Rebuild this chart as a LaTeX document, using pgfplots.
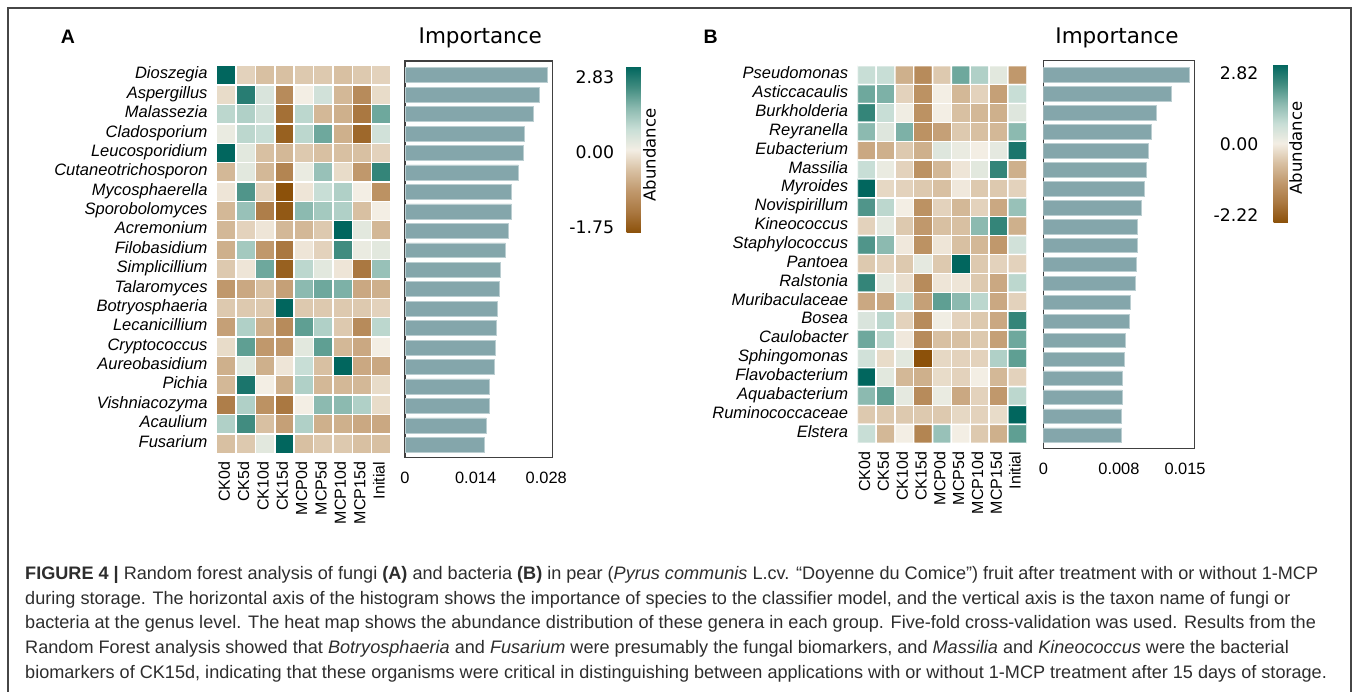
\documentclass[border=0pt]{standalone}
\usepackage{pgfplots}
\pgfplotsset{compat=1.18}
\usepackage{fontspec}
\setmainfont{Liberation Sans}
\newfontfamily\dejavu{DejaVu Sans}
\definecolor{barc}{RGB}{132,166,171}
\definecolor{captxt}{RGB}{45,45,45}
\definecolor{framec}{RGB}{70,70,70}
\pgfplotsset{colormap={brbg}{rgb255=(140,81,10) rgb255=(170,120,65) rgb255=(192,152,108) rgb255=(216,192,162) rgb255=(243,238,228) rgb255=(200,222,214) rgb255=(140,186,176) rgb255=(65,140,128) rgb255=(1,102,94)}}
\newcommand{\fs}[1]{\fontsize{#1pt}{#1pt}\selectfont}
\pgfplotsset{
  myheat/.style={scale only axis, y dir=reverse, xmin=-0.5, xmax=8.5, ymin=-0.5, ymax=19.5,
    axis line style={draw=none}, major tick length=0pt, xtick={0,...,8}, ytick={0,...,19},
    xticklabels={CK0d,CK5d,CK10d,CK15d,MCP0d,MCP5d,MCP10d,MCP15d,Initial},
    xticklabel style={font=\fs{16}, rotate=90, anchor=east, inner xsep=8.4pt, inner ysep=0pt},
    yticklabel style={font=\fs{16.5}\itshape, anchor=east, inner xsep=9pt, inner ysep=0pt},
    typeset ticklabels with strut, colormap name=brbg, point meta min=-1, point meta max=1,
    anchor=south west},
  mycells/.style={matrix plot*, shader=faceted, faceted color=white, line width=1.4pt, mesh/cols=9, mesh/rows=20, point meta=explicit},
  mybars/.style={scale only axis, y dir=reverse, xmin=0, ytick=\empty, scaled x ticks=false,
    major tick length=0pt, axis line style={line width=1.2pt, draw=black!75},
    xticklabel style={font=\fs{16.4}, anchor=north, inner xsep=0pt, inner ysep=14.4pt},
    anchor=south west},
  mybarplot/.style={xbar, bar width=0.77, fill=barc, draw=barc!55!white, line width=0.6pt},
  mycbar/.style={scale only axis, width=16pt, anchor=north west, yticklabel pos=left,
    axis line style={draw=none}, major tick length=0pt,
    yticklabel style={font=\dejavu\fs{17.3}, anchor=east, inner ysep=0pt}}
}
\begin{document}
\begin{tikzpicture}[x=1pt,y=1pt]
\useasboundingbox (0,0) rectangle (1357,691);
\draw[line width=1.5pt, framec] (8,-2) -- (8,683) -- (1351,683) -- (1351,-2);
% ---------------- Panel A ----------------
\node[anchor=base west, font=\fs{19.5}\bfseries] at (57.3,647.7) {A};
\begin{axis}[myheat, at={(216.7pt,237.7pt)}, width=174.3pt, height=387.6pt,
  yticklabels={Dioszegia,Aspergillus,Malassezia,Cladosporium,Leucosporidium,Cutaneotrichosporon,Mycosphaerella,Sporobolomyces,Acremonium,Filobasidium,Simplicillium,Talaromyces,Botryosphaeria,Lecanicillium,Cryptococcus,Aureobasidium,Pichia,Vishniacozyma,Acaulium,Fusarium},
  colorbar, colorbar style={mycbar, height=166pt, at={(618pt,624.3pt)},
    ytick={-0.931,-0.036,0.876}, yticklabels={-1.75,0.00,2.83},
    yticklabel style={inner xsep=12.3pt}}]
\addplot[mycells] coordinates {
(0,0)[1] (1,0)[-0.15] (2,0)[-0.25] (3,0)[-0.25] (4,0)[-0.2] (5,0)[-0.2] (6,0)[-0.25] (7,0)[-0.2] (8,0)[-0.15]
(0,1)[-0.1] (1,1)[0.85] (2,1)[0.15] (3,1)[-0.6] (4,1)[0] (5,1)[0.2] (6,1)[-0.3] (7,1)[-0.6] (8,1)[-0.1]
(0,2)[0.3] (1,2)[0.35] (2,2)[0.2] (3,2)[-0.8] (4,2)[0.3] (5,2)[-0.3] (6,2)[-0.35] (7,2)[-0.75] (8,2)[0.6]
(0,3)[0.05] (1,3)[0.3] (2,3)[0.25] (3,3)[-0.9] (4,3)[0.3] (5,3)[0.6] (6,3)[-0.35] (7,3)[-0.85] (8,3)[0.2]
(0,4)[1] (1,4)[0.1] (2,4)[-0.25] (3,4)[-0.3] (4,4)[-0.2] (5,4)[-0.25] (6,4)[-0.25] (7,4)[-0.25] (8,4)[-0.15]
(0,5)[-0.3] (1,5)[0.1] (2,5)[-0.3] (3,5)[-0.65] (4,5)[0.05] (5,5)[0.45] (6,5)[-0.1] (7,5)[-0.5] (8,5)[0.8]
(0,6)[-0.05] (1,6)[0.7] (2,6)[-0.15] (3,6)[-1] (4,6)[-0.05] (5,6)[0.25] (6,6)[0.35] (7,6)[0] (8,6)[-0.55]
(0,7)[-0.3] (1,7)[0.45] (2,7)[-0.7] (3,7)[-0.95] (4,7)[0.5] (5,7)[0.4] (6,7)[0.35] (7,7)[-0.25] (8,7)[0]
(0,8)[-0.3] (1,8)[-0.15] (2,8)[-0.05] (3,8)[-0.3] (4,8)[-0.3] (5,8)[-0.2] (6,8)[1] (7,8)[0.1] (8,8)[-0.3]
(0,9)[-0.35] (1,9)[0.4] (2,9)[-0.5] (3,9)[-0.75] (4,9)[-0.05] (5,9)[-0.15] (6,9)[0.75] (7,9)[0.05] (8,9)[0.1]
(0,10)[-0.2] (1,10)[-0.05] (2,10)[0.6] (3,10)[-0.9] (4,10)[0.3] (5,10)[0.1] (6,10)[-0.05] (7,10)[-0.75] (8,10)[0.45]
(0,11)[-0.5] (1,11)[-0.4] (2,11)[-0.25] (3,11)[-0.45] (4,11)[0.5] (5,11)[0.6] (6,11)[0.55] (7,11)[-0.4] (8,11)[-0.35]
(0,12)[-0.2] (1,12)[-0.2] (2,12)[-0.2] (3,12)[1] (4,12)[-0.2] (5,12)[-0.2] (6,12)[-0.2] (7,12)[-0.2] (8,12)[-0.15]
(0,13)[-0.45] (1,13)[0.35] (2,13)[-0.35] (3,13)[-0.6] (4,13)[0.65] (5,13)[0.35] (6,13)[-0.2] (7,13)[-0.6] (8,13)[0.3]
(0,14)[-0.1] (1,14)[0.65] (2,14)[-0.5] (3,14)[-0.5] (4,14)[0.1] (5,14)[0.65] (6,14)[-0.3] (7,14)[-0.4] (8,14)[0]
(0,15)[-0.35] (1,15)[0.1] (2,15)[-0.35] (3,15)[-0.05] (4,15)[0.25] (5,15)[-0.25] (6,15)[1] (7,15)[-0.4] (8,15)[-0.4]
(0,16)[-0.3] (1,16)[0.9] (2,16)[0] (3,16)[-0.35] (4,16)[0.35] (5,16)[-0.3] (6,16)[-0.3] (7,16)[-0.3] (8,16)[-0.1]
(0,17)[-0.7] (1,17)[0.35] (2,17)[-0.55] (3,17)[-0.75] (4,17)[0] (5,17)[0.5] (6,17)[0.5] (7,17)[0.35] (8,17)[-0.1]
(0,18)[0.35] (1,18)[0.75] (2,18)[-0.25] (3,18)[-0.45] (4,18)[0.35] (5,18)[-0.35] (6,18)[-0.35] (7,18)[-0.4] (8,18)[-0.4]
(0,19)[-0.25] (1,19)[-0.2] (2,19)[0.1] (3,19)[1] (4,19)[-0.25] (5,19)[-0.2] (6,19)[-0.2] (7,19)[-0.25] (8,19)[-0.25]
};
\end{axis}
\begin{axis}[mybars, at={(405pt,233.7pt)}, width=147.7pt, height=396.3pt,
  xmax=0.02928, ymin=-0.73, ymax=19.64,
  xtick={0,0.014,0.028}, xticklabels={0,0.014,0.028}]
\addplot[mybarplot] coordinates {
(0.02829,0) (0.02662,1) (0.02551,2) (0.02373,3) (0.02353,4) (0.02246,5) (0.02115,6) (0.02107,7) (0.02048,8) (0.01988,9)
(0.01883,10) (0.01863,11) (0.01834,12) (0.01814,13) (0.01784,14) (0.01774,15) (0.01675,16) (0.01665,17) (0.01606,18) (0.01566,19)};
\end{axis}
\node[anchor=base, font=\dejavu\fs{21.5}] at (480.3,647) {Importance};
\node[rotate=90, anchor=north, inner sep=0pt, font=\dejavu\fs{16.5}] at (643,536.1) {Abundance};
% ---------------- Panel B ----------------
\node[anchor=base west, font=\fs{19.5}\bfseries] at (700,647.7) {B};
\begin{axis}[myheat, at={(857.3pt,247.7pt)}, width=169.4pt, height=377.6pt,
  yticklabels={Pseudomonas,Asticcacaulis,Burkholderia,Reyranella,Eubacterium,Massilia,Myroides,Novispirillum,Kineococcus,Staphylococcus,Pantoea,Ralstonia,Muribaculaceae,Bosea,Caulobacter,Sphingomonas,Flavobacterium,Aquabacterium,Ruminococcaceae,Elstera},
  colorbar, colorbar style={mycbar, height=158pt, at={(1265pt,626.7pt)},
    ytick={-0.908,-0.013,0.886}, yticklabels={-2.22,0.00,2.82},
    yticklabel style={inner xsep=15pt}}]
\addplot[mycells] coordinates {
(0,0)[0.25] (1,0)[0.25] (2,0)[-0.35] (3,0)[-0.6] (4,0)[-0.2] (5,0)[0.6] (6,0)[0.35] (7,0)[0.1] (8,0)[-0.5]
(0,1)[0.6] (1,1)[0.55] (2,1)[-0.15] (3,1)[-0.55] (4,1)[0] (5,1)[-0.3] (6,1)[-0.15] (7,1)[-0.45] (8,1)[0.25]
(0,2)[0.8] (1,2)[0.25] (2,2)[0.02] (3,2)[-0.55] (4,2)[0] (5,2)[-0.25] (6,2)[-0.3] (7,2)[-0.35] (8,2)[0.12]
(0,3)[0.5] (1,3)[0.12] (2,3)[0.55] (3,3)[-0.55] (4,3)[-0.45] (5,3)[-0.2] (6,3)[-0.25] (7,3)[-0.3] (8,3)[0.5]
(0,4)[-0.4] (1,4)[-0.35] (2,4)[-0.2] (3,4)[-0.35] (4,4)[0.12] (5,4)[0.05] (6,4)[0] (7,4)[0.08] (8,4)[0.9]
(0,5)[0.25] (1,5)[0.05] (2,5)[-0.15] (3,5)[-0.55] (4,5)[-0.3] (5,5)[-0.05] (6,5)[0.1] (7,5)[0.8] (8,5)[-0.35]
(0,6)[1] (1,6)[-0.12] (2,6)[-0.15] (3,6)[-0.2] (4,6)[-0.25] (5,6)[-0.03] (6,6)[-0.2] (7,6)[-0.2] (8,6)[-0.15]
(0,7)[0.7] (1,7)[0.3] (2,7)[0] (3,7)[-0.55] (4,7)[-0.15] (5,7)[-0.3] (6,7)[-0.15] (7,7)[-0.4] (8,7)[0.45]
(0,8)[-0.15] (1,8)[0.08] (2,8)[-0.2] (3,8)[-0.5] (4,8)[-0.25] (5,8)[-0.25] (6,8)[0.5] (7,8)[0.8] (8,8)[-0.35]
(0,9)[0.7] (1,9)[0.5] (2,9)[-0.03] (3,9)[-0.55] (4,9)[-0.05] (5,9)[-0.25] (6,9)[-0.3] (7,9)[-0.5] (8,9)[0.2]
(0,10)[-0.2] (1,10)[-0.15] (2,10)[-0.2] (3,10)[0.08] (4,10)[-0.2] (5,10)[1] (6,10)[-0.2] (7,10)[-0.15] (8,10)[-0.15]
(0,11)[0.8] (1,11)[0.08] (2,11)[-0.08] (3,11)[-0.6] (4,11)[-0.05] (5,11)[-0.05] (6,11)[-0.2] (7,11)[-0.4] (8,11)[0.3]
(0,12)[-0.4] (1,12)[-0.4] (2,12)[0.25] (3,12)[-0.45] (4,12)[0.65] (5,12)[0.5] (6,12)[0.3] (7,12)[-0.4] (8,12)[-0.15]
(0,13)[0.15] (1,13)[0.3] (2,13)[-0.15] (3,13)[-0.6] (4,13)[0.02] (5,13)[-0.15] (6,13)[-0.2] (7,13)[-0.4] (8,13)[0.8]
(0,14)[0.6] (1,14)[0.3] (2,14)[-0.03] (3,14)[-0.6] (4,14)[-0.25] (5,14)[-0.25] (6,14)[-0.2] (7,14)[-0.45] (8,14)[0.6]
(0,15)[0.2] (1,15)[-0.1] (2,15)[0.1] (3,15)[-1] (4,15)[-0.12] (5,15)[-0.15] (6,15)[-0.15] (7,15)[0.35] (8,15)[0.65]
(0,16)[1] (1,16)[0.1] (2,16)[-0.3] (3,16)[-0.35] (4,16)[-0.1] (5,16)[-0.15] (6,16)[0] (7,16)[-0.3] (8,16)[-0.15]
(0,17)[0.5] (1,17)[0.65] (2,17)[0.08] (3,17)[-0.6] (4,17)[0.05] (5,17)[-0.4] (6,17)[-0.15] (7,17)[-0.5] (8,17)[0.3]
(0,18)[-0.2] (1,18)[-0.2] (2,18)[-0.2] (3,18)[-0.2] (4,18)[-0.2] (5,18)[-0.12] (6,18)[-0.15] (7,18)[-0.1] (8,18)[1]
(0,19)[0.25] (1,19)[-0.3] (2,19)[0] (3,19)[-0.65] (4,19)[0.45] (5,19)[0] (6,19)[-0.2] (7,19)[-0.35] (8,19)[0.65]
};
\end{axis}
\begin{axis}[mybars, at={(1043.3pt,242.7pt)}, width=151pt, height=387.6pt,
  xmax=0.01598, ymin=-0.74, ymax=19.69,
  xtick={0,0.008,0.015}, xticklabels={0,0.008,0.015},
  xticklabel style={inner ysep=15pt}]
\addplot[mybarplot] coordinates {
(0.01542,0) (0.01359,1) (0.01200,2) (0.01147,3) (0.01111,4) (0.01090,5) (0.01069,6) (0.01034,7) (0.00995,8) (0.00992,9)
(0.00981,10) (0.00976,11) (0.00917,12) (0.00907,13) (0.00865,14) (0.00854,15) (0.00838,16) (0.00833,17) (0.00828,18) (0.00830,19)};
\end{axis}
\node[anchor=base, font=\dejavu\fs{21.5}] at (1117,647) {Importance};
\node[rotate=90, anchor=north, inner sep=0pt, font=\dejavu\fs{16.5}] at (1289,543) {Abundance};
% ---------------- Caption ----------------
\begin{scope}[every node/.style={anchor=base west, inner sep=0pt, font=\fs{18.1}, text=captxt}]
\node at (25,111.7) {\textbf{FIGURE 4 |} Random forest analysis of fungi \textbf{(A)} and bacteria \textbf{(B)} in pear (\textit{Pyrus communis} L.cv. “Doyenne du Comice”) fruit after treatment with or without 1-MCP};
\node at (25,87.0) {during storage. The horizontal axis of the histogram shows the importance of species to the classifier model, and the vertical axis is the taxon name of fungi or};
\node at (25,62.3) {bacteria at the genus level. The heat map shows the abundance distribution of these genera in each group. Five-fold cross-validation was used. Results from the};
\node at (25,37.6) {Random Forest analysis showed that \textit{Botryosphaeria} and \textit{Fusarium} were presumably the fungal biomarkers, and \textit{Massilia} and \textit{Kineococcus} were the bacterial};
\node at (25,12.9) {biomarkers of CK15d, indicating that these organisms were critical in distinguishing between applications with or without 1-MCP treatment after 15 days of storage.};
\end{scope}
\end{tikzpicture}
\end{document}
